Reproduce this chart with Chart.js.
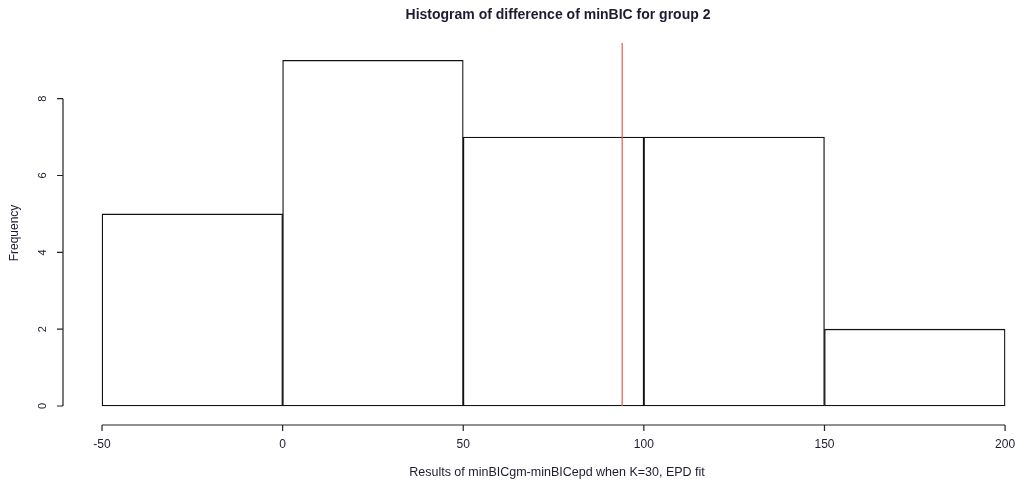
<!DOCTYPE html>
<html>
<head>
<meta charset="utf-8">
<script src="https://cdn.jsdelivr.net/npm/chart.js@4.4.1/dist/chart.umd.min.js"></script>
<style>
  html, body { margin: 0; padding: 0; background: #fff; }
  #wrap { width: 1017px; height: 485px; }
</style>
</head>
<body>
<div id="wrap"><canvas id="histChart"></canvas></div>
<script>
const binEdges = [-50, 0, 50, 100, 150, 200];
const counts = [5, 9, 7, 7, 2];
const xTicks = [-50, 0, 50, 100, 150, 200];
const yTicks = [0, 2, 4, 6, 8];
const markerValue = 94;
const titleText = 'Histogram of difference of minBIC for group 2';
const xLabel = 'Results of minBICgm-minBICepd when K=30, EPD fit';
const yLabel = 'Frequency';

const bars = counts.map((c, i) => ({ x: (binEdges[i] + binEdges[i + 1]) / 2, y: c }));
const textColor = '#1c1c30';

// R-style axes, drawn from the chart's own scales
const rAxes = {
  id: 'rAxes',
  afterDraw(chart) {
    const { ctx, chartArea, scales } = chart;
    const xs = scales.x, ys = scales.y;
    ctx.save();
    ctx.strokeStyle = '#222';
    ctx.lineWidth = 1.2;
    ctx.fillStyle = textColor;

    // x axis
    const axY = chartArea.bottom;
    ctx.beginPath();
    ctx.moveTo(xs.getPixelForValue(xTicks[0]), axY);
    ctx.lineTo(xs.getPixelForValue(xTicks[xTicks.length - 1]), axY);
    xTicks.forEach((t) => {
      const px = xs.getPixelForValue(t);
      ctx.moveTo(px, axY);
      ctx.lineTo(px, axY + 6);
    });
    ctx.stroke();
    ctx.font = '12px "Liberation Sans", Arial, sans-serif';
    ctx.textAlign = 'center';
    ctx.textBaseline = 'middle';
    xTicks.forEach((t) => ctx.fillText(String(t), xs.getPixelForValue(t), axY + 20));

    // y axis
    const axX = chartArea.left;
    ctx.beginPath();
    ctx.moveTo(axX, ys.getPixelForValue(yTicks[0]));
    ctx.lineTo(axX, ys.getPixelForValue(yTicks[yTicks.length - 1]));
    yTicks.forEach((t) => {
      const py = ys.getPixelForValue(t);
      ctx.moveTo(axX, py);
      ctx.lineTo(axX - 6, py);
    });
    ctx.stroke();
    ctx.font = '11px "Liberation Sans", Arial, sans-serif';
    yTicks.forEach((t) => {
      ctx.save();
      ctx.translate(axX - 20, ys.getPixelForValue(t));
      ctx.rotate(-Math.PI / 2);
      ctx.fillText(String(t), 0, 0);
      ctx.restore();
    });

    // titles
    ctx.font = 'bold 14px "Liberation Sans", Arial, sans-serif';
    ctx.fillText(titleText, 558, 15);
    ctx.font = '12.5px "Liberation Sans", Arial, sans-serif';
    ctx.fillText(xLabel, 557, 473);
    ctx.font = '12px "Liberation Sans", Arial, sans-serif';
    ctx.save();
    ctx.translate(15, 233);
    ctx.rotate(-Math.PI / 2);
    ctx.fillText(yLabel, 0, 0);
    ctx.restore();
    ctx.restore();
  }
};

new Chart(document.getElementById('histChart'), {
  type: 'bar',
  data: {
    datasets: [
      {
        type: 'line',
        data: [{ x: markerValue, y: 0 }, { x: markerValue, y: 9.45 }],
        borderColor: '#e8593e',
        borderWidth: 1.2,
        pointRadius: 0,
        order: 0,
      },
      {
        data: bars,
        backgroundColor: '#ffffff',
        borderColor: '#111111',
        borderWidth: 1.3,
        borderSkipped: false,
        barPercentage: 1,
        categoryPercentage: 1,
        order: 1,
      },
    ],
  },
  options: {
    responsive: true,
    maintainAspectRatio: false,
    animation: false,
    layout: { padding: { left: 63, top: 43, bottom: 60, right: 0 } },
    plugins: { legend: { display: false }, tooltip: { enabled: false } },
    scales: {
      x: { type: 'linear', min: -60.8, max: 203.3, offset: false, display: false },
      y: { min: -0.495, max: 9.45, display: false },
    },
  },
  plugins: [rAxes],
});
</script>
</body>
</html>
